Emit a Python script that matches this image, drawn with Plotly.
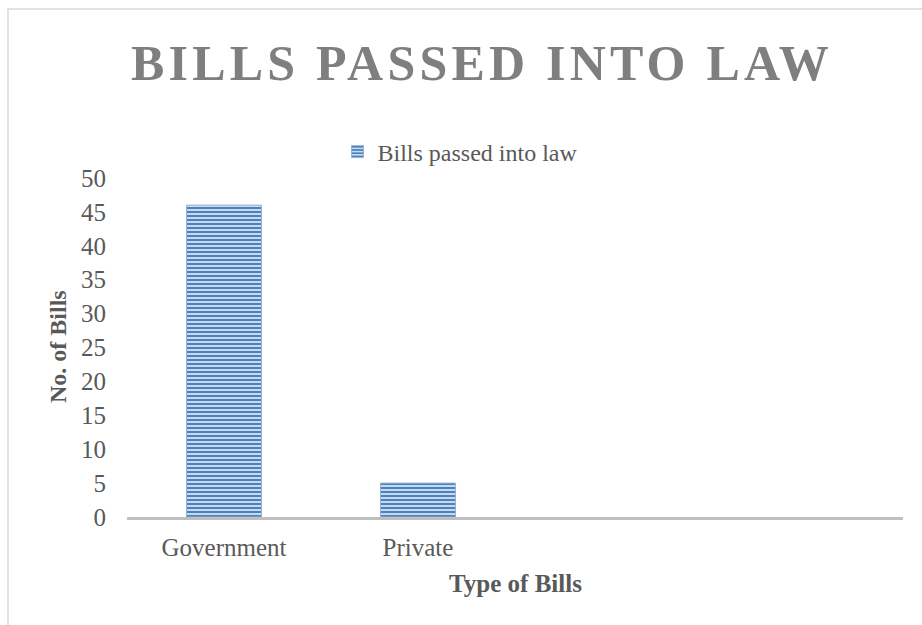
import plotly.graph_objects as go

# Data
categories = ["Government", "Private", " ", "  "]
bills_passed = [46, 5, None, None]
series_name = "Bills passed into law"
y_ticks = [0, 5, 10, 15, 20, 25, 30, 35, 40, 45, 50]

FONT = "Liberation Serif"
W, H = 922, 625
L, R, T, B = 127, 19, 178, 108
pw, ph = W - L - R, H - T - B

fig = go.Figure()
fig.add_trace(go.Bar(
    x=categories, y=bills_passed, name=series_name,
    marker=dict(
        color="#c6d9f1",
        line=dict(color="#95b3d7", width=1),
        pattern=dict(shape="-", size=4, solidity=0.5,
                     fgcolor="#4f81bd", bgcolor="#c6d9f1", fillmode="replace"),
    ),
    showlegend=True,
))

fig.update_layout(
    width=W, height=H,
    margin=dict(l=L, r=R, t=T, b=B, autoexpand=False),
    paper_bgcolor="white", plot_bgcolor="white",
    bargap=0.613,
    font=dict(family=FONT, size=25, color="#595959"),
    title=dict(
        text='<b><span style="letter-spacing:4.2px">BILLS PASSED INTO LAW</span></b>',
        font=dict(family=FONT, size=50, color="#7f7f7f"),
        x=482 / W, xref="container", xanchor="center",
        y=1 - 62 / H, yref="container", yanchor="middle",
    ),
    legend=dict(
        orientation="h", xref="container", yref="container",
        x=460 / W, xanchor="center", y=1 - 152 / H, yanchor="middle",
        font=dict(family=FONT, size=24, color="#595959"),
        itemwidth=30, bgcolor="rgba(0,0,0,0)",
    ),
    xaxis=dict(
        type="category", categoryorder="array", categoryarray=categories,
        showline=True, linecolor="#bfbfbf", linewidth=3,
        showgrid=False, ticks="", ticklabelstandoff=6,
        tickfont=dict(family=FONT, size=25, color="#595959"),
        fixedrange=True,
    ),
    yaxis=dict(
        range=[0, 50], tickvals=y_ticks, showgrid=False, zeroline=False,
        showline=False, ticks="", ticklabelstandoff=20,
        tickfont=dict(family=FONT, size=25, color="#595959"),
        fixedrange=True,
    ),
    annotations=[
        dict(text="<b>Type of Bills</b>", xref="paper", yref="paper",
             x=(515 - L) / pw, y=(H - B - 583) / ph, xanchor="center", yanchor="middle",
             showarrow=False, font=dict(family=FONT, size=25, color="#595959")),
        dict(text="<b>No. of Bills</b>", xref="paper", yref="paper",
             x=(58 - L) / pw, y=(H - B - 347) / ph, xanchor="center", yanchor="middle",
             textangle=-90, showarrow=False,
             font=dict(family=FONT, size=24, color="#595959")),
    ],
    shapes=[
        dict(type="rect", xref="paper", yref="paper",
             x0=(8 - L) / pw, x1=(W + 20 - L) / pw,
             y0=(H - B - (H + 20)) / ph, y1=(H - B - 9) / ph,
             line=dict(color="#d9d9d9", width=1.5), fillcolor="rgba(0,0,0,0)",
             layer="below"),
    ],
)

fig.write_html("out.html")
